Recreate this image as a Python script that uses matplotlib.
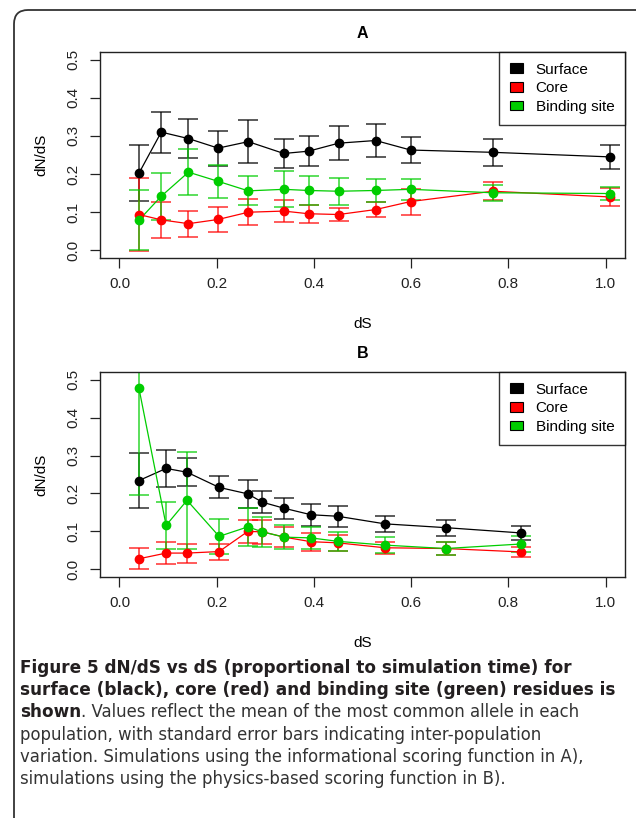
import numpy as np
import matplotlib
matplotlib.use('Agg')
from matplotlib import pyplot as plt
from matplotlib.patches import Patch, FancyBboxPatch

# ---- panel A (informational scoring) ----
a_x = [0.040, 0.086, 0.142, 0.203, 0.265, 0.338, 0.389, 0.451, 0.527, 0.599, 0.768, 1.010]
a_surface = [0.202, 0.310, 0.293, 0.268, 0.285, 0.254, 0.260, 0.281, 0.288, 0.263, 0.257, 0.245]
a_surface_err = [0.073, 0.054, 0.051, 0.046, 0.057, 0.038, 0.040, 0.045, 0.044, 0.033, 0.035, 0.032]
a_core = [0.094, 0.080, 0.070, 0.081, 0.100, 0.103, 0.096, 0.094, 0.107, 0.128, 0.155, 0.140]
a_core_err = [0.095, 0.047, 0.034, 0.033, 0.034, 0.029, 0.024, 0.017, 0.020, 0.034, 0.024, 0.023]
a_bind = [0.079, 0.142, 0.205, 0.181, 0.156, 0.160, 0.157, 0.155, 0.157, 0.160, 0.151, 0.149]
a_bind_err = [0.079, 0.062, 0.060, 0.044, 0.038, 0.047, 0.037, 0.035, 0.031, 0.027, 0.021, 0.016]

# ---- panel B (physics-based scoring) ----
b_x = [0.040, 0.096, 0.139, 0.205, 0.264, 0.294, 0.339, 0.394, 0.449, 0.546, 0.671, 0.827]
b_surface = [0.234, 0.266, 0.256, 0.216, 0.199, 0.177, 0.161, 0.144, 0.140, 0.120, 0.110, 0.096]
b_surface_err = [0.072, 0.048, 0.037, 0.029, 0.036, 0.029, 0.027, 0.029, 0.027, 0.022, 0.021, 0.019]
b_core = [0.028, 0.043, 0.043, 0.047, 0.100, 0.099, 0.085, 0.073, 0.070, 0.057, 0.055, 0.046]
b_core_err = [0.028, 0.028, 0.025, 0.021, 0.030, 0.031, 0.027, 0.024, 0.021, 0.016, 0.017, 0.014]
b_bind = [0.478, 0.116, 0.182, 0.087, 0.112, 0.099, 0.085, 0.083, 0.074, 0.064, 0.055, 0.067]
b_bind_err = [0.282, 0.062, 0.128, 0.046, 0.050, 0.039, 0.031, 0.030, 0.025, 0.021, 0.017, 0.020]

series_names = ['Surface', 'Core', 'Binding site']
series_colors = ['#000000', '#ff0000', '#00cd00']
x_ticks = [0.0, 0.2, 0.4, 0.6, 0.8, 1.0]
y_ticks = [0.0, 0.1, 0.2, 0.3, 0.4, 0.5]

caption_lines = [
    'Figure 5 dN/dS vs dS (proportional to simulation time) for',
    'surface (black), core (red) and binding site (green) residues is',
]
caption_bold_start = 'shown'
caption_rest = [
    '. Values reflect the mean of the most common allele in each',
    'population, with standard error bars indicating inter-population',
    'variation. Simulations using the informational scoring function in A),',
    'simulations using the physics-based scoring function in B).',
]

plt.rcParams['font.family'] = ['Liberation Sans', 'DejaVu Sans']

W, H = 636, 818
fig = plt.figure(figsize=(W / 100, H / 100), dpi=100)


def px_axes(left, top, right, bottom):
    return fig.add_axes([left / W, 1 - bottom / H, (right - left) / W, (bottom - top) / H])


def draw_panel(ax, title, xs, groups):
    for (vals, errs), col in zip(groups, series_colors):
        ax.errorbar(xs, vals, yerr=errs, fmt='none', ecolor=col, elinewidth=1.2,
                    capsize=7, capthick=1.2, alpha=0.75, zorder=2)
    for (vals, errs), col in zip(groups, series_colors):
        ax.plot(xs, vals, '-', color=col, lw=0.9, zorder=3)
        ax.plot(xs, vals, 'o', color=col, ms=6, mec=col, zorder=4)
    ax.set_xlim(-0.04, 1.04)
    ax.set_ylim(-0.02, 0.52)
    ax.set_xticks(x_ticks)
    ax.set_xticklabels(['%.1f' % v for v in x_ticks])
    ax.set_yticks(y_ticks)
    ax.set_yticklabels(['%.1f' % v for v in y_ticks], rotation=90, va='center')
    ax.tick_params(direction='out', length=7, width=0.9, labelsize=11, pad=7, colors='#222222')
    for s in ax.spines.values():
        s.set_linewidth(1.0)
        s.set_color('#222222')
    ax.set_xlabel('dS', fontsize=11, labelpad=18.5)
    ax.set_ylabel('dN/dS', fontsize=11, labelpad=13)
    ax.set_title(title, fontsize=11.5, fontweight='bold', pad=10)
    handles = [Patch(facecolor=c, edgecolor='black', lw=0.8) for c in series_colors]
    leg = ax.legend(handles, series_names, loc='upper right', fontsize=11,
                    frameon=True, fancybox=False, borderaxespad=0,
                    handlelength=0.9, handleheight=0.6, handletextpad=0.8,
                    labelspacing=0.3, borderpad=0.7)
    leg.get_frame().set_edgecolor('black')
    leg.get_frame().set_linewidth(1.0)


axA = px_axes(100, 52, 625, 258)
draw_panel(axA, 'A', a_x, [(a_surface, a_surface_err), (a_core, a_core_err), (a_bind, a_bind_err)])

axB = px_axes(100, 372, 625, 577)
draw_panel(axB, 'B', b_x, [(b_surface, b_surface_err), (b_core, b_core_err), (b_bind, b_bind_err)])

# rounded frame around the figure
frame = FancyBboxPatch((0.14, -0.5), 6.5, 8.08 + 0.5, boxstyle='round,pad=0,rounding_size=0.14',
                       transform=fig.dpi_scale_trans, fill=False, edgecolor='#333333', lw=1.3)
fig.patches.append(frame)

# caption
cap_font = ['DejaVu Sans']
bold_size = 12.2
reg_size = 11.9
x0 = 20 / W
line_h = 22.2
y_first = 668
for i, line in enumerate(caption_lines):
    fig.text(x0, 1 - (y_first + i * line_h) / H, line, family=cap_font, fontsize=bold_size,
             fontweight='bold', color='#231f20', va='center')
y3 = 1 - (y_first + 2 * line_h) / H
t_bold = fig.text(x0, y3, caption_bold_start, family=cap_font, fontsize=bold_size,
                  fontweight='bold', color='#231f20', va='center')
fig.add_artist(matplotlib.text.Annotation(caption_rest[0], xy=(1, 0), xycoords=t_bold,
                                          va='bottom', ha='left', family=cap_font,
                                          fontsize=reg_size, color='#333333'))
for j, line in enumerate(caption_rest[1:]):
    fig.text(x0, 1 - (y_first + (3 + j) * line_h) / H, line, family=cap_font, fontsize=reg_size,
             color='#333333', va='center')

fig.savefig('out.png', dpi=100)
